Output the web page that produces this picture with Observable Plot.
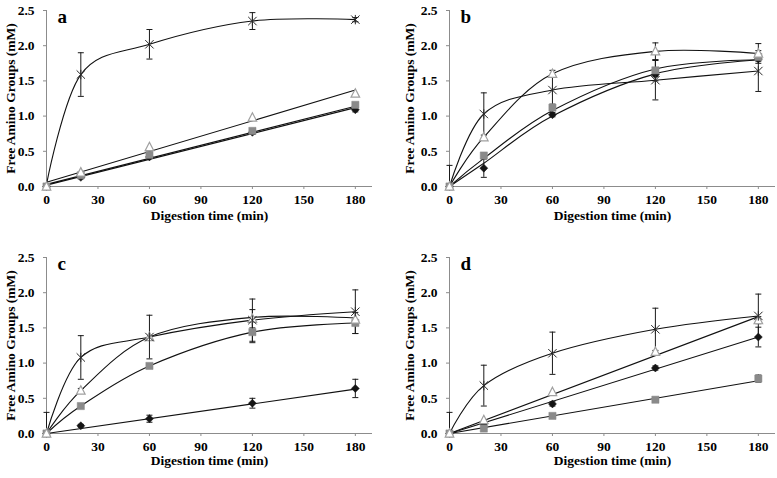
<!DOCTYPE html>
<html><head><meta charset="utf-8">
<script src="https://cdn.jsdelivr.net/npm/d3@7"></script>
<script src="https://cdn.jsdelivr.net/npm/@observablehq/plot@0.6"></script>
<style>
body{margin:0;background:#fff;}
#chart{position:relative;width:777px;height:478px;background:#fff;overflow:hidden;}
#chart svg{position:absolute;overflow:visible;}
</style></head><body><div id="chart"></div>
<script>
// ---------- data ----------
const times = [0, 20, 60, 120, 180];
const fitTimes = [0, 180];
const yTicks = [0, 0.5, 1, 1.5, 2, 2.5];
const xTicks = [0, 30, 60, 90, 120, 150, 180];
const panelLetters = ["a", "b", "c", "d"];
const yTitle = "Free Amino Groups (mM)";
const xTitle = "Digestion time (min)";

// panel a
const aDiamond = [0, 0.13, 0.42, 0.77, 1.09];
const aDiamondErr = [0, 0.02, 0.02, 0.03, 0.03];
const aDiamondFit = [0.02, 1.12];
const aSquare = [0, 0.16, 0.45, 0.79, 1.16];
const aSquareErr = [0, 0, 0, 0, 0];
const aSquareFit = [0.03, 1.14];
const aTriangle = [0, 0.20, 0.56, 0.98, 1.32];
const aTriangleErr = [0, 0, 0, 0, 0];
const aTriangleFit = [0.06, 1.37];
const aStar = [0.03, 1.59, 2.02, 2.35, 2.37];
const aStarErr = [0, 0.31, 0.21, 0.12, 0.03];

// panel b
const bDiamond = [0, 0.26, 1.02, 1.59, 1.81];
const bDiamondErr = [0, 0.13, 0.03, 0.03, 0.03];
const bDiamondFit = [0, 0.33, 1.00, 1.60, 1.80];
const bSquare = [0, 0.44, 1.12, 1.65, 1.84];
const bSquareErr = [0, 0, 0, 0.15, 0];
const bSquareFit = [0, 0.40, 1.08, 1.67, 1.80];
const bTriangle = [0, 0.70, 1.60, 1.92, 1.89];
const bTriangleErr = [0, 0, 0.05, 0.12, 0.14];
const bStar = [0, 1.03, 1.37, 1.51, 1.64];
const bStarErr = [0.3, 0.3, 0.2, 0.28, 0.29];

// panel c
const cDiamond = [0, 0.11, 0.21, 0.43, 0.64];
const cDiamondErr = [0, 0.02, 0.05, 0.07, 0.13];
const cDiamondFit = [0, 0.63];
const cSquare = [0, 0.39, 0.96, 1.44, 1.57];
const cSquareErr = [0, 0, 0, 0.15, 0.15];
const cTriangle = [0, 0.61, 1.37, 1.63, 1.62];
const cTriangleErr = [0, 0.03, 0, 0.13, 0];
const cTriangleFit = [0, 0.61, 1.37, 1.65, 1.64];
const cStar = [0, 1.08, 1.37, 1.61, 1.73];
const cStarErr = [0.3, 0.31, 0.31, 0.30, 0.31];

// panel d
const dDiamond = [0, 0.14, 0.42, 0.93, 1.37];
const dDiamondErr = [0, 0.02, 0.03, 0.03, 0.14];
const dDiamondFit = [0, 1.37];
const dSquare = [0, 0.07, 0.25, 0.48, 0.78];
const dSquareErr = [0, 0, 0, 0, 0.05];
const dSquareFit = [0, 0.75];
const dTriangle = [0, 0.19, 0.59, 1.16, 1.61];
const dTriangleErr = [0, 0, 0, 0, 0.05];
const dTriangleFit = [0, 1.66];
const dStar = [0, 0.68, 1.14, 1.48, 1.67];
const dStarErr = [0.3, 0.29, 0.30, 0.30, 0.31];

// ---------- symbols (Excel style) ----------
const starSym = {draw(c){const r=4.2;c.moveTo(-r,-r);c.lineTo(r,r);c.moveTo(-r,r);c.lineTo(r,-r);c.moveTo(0,-r-0.5);c.lineTo(0,r+0.5);}};
const diamondSym = {draw(c){const r=4;c.moveTo(0,-r);c.lineTo(r,0);c.lineTo(0,r);c.lineTo(-r,0);c.closePath();}};
const squareSym = {draw(c){const r=3.6;c.rect(-r,-r,2*r,2*r);}};
const triSym = {draw(c){c.moveTo(0,-4.8);c.lineTo(4.3,3.6);c.lineTo(-4.3,3.6);c.closePath();}};
const capSym = {draw(c){c.moveTo(-3,0);c.lineTo(3,0);}};

const styles = {
  diamond: {symbol: diamondSym, fill: "#141414", stroke: "#141414", strokeWidth: 0.5},
  square: {symbol: squareSym, fill: "#8a8a8a", stroke: "#8a8a8a", strokeWidth: 0.5},
  triangle: {symbol: triSym, fill: "#ffffff", stroke: "#a0a0a0", strokeWidth: 1.2},
  star: {symbol: starSym, fill: "none", stroke: "#2a2a2a", strokeWidth: 1}
};

function rows(vals, errs) { return times.map((t, i) => ({t, y: vals[i], e: errs[i]})); }
function fitRows(ts, vals) { return ts.map((t, i) => ({t, y: vals[i]})); }

const panels = [
  {letter: panelLetters[0], left: 0, top: 0, width: 388, ml: 46, mr: 16, titleDy: 29, series: [
    {k: "diamond", d: rows(aDiamond, aDiamondErr), fit: fitRows(fitTimes, aDiamondFit), curve: "linear"},
    {k: "square", d: rows(aSquare, aSquareErr), fit: fitRows(fitTimes, aSquareFit), curve: "linear"},
    {k: "triangle", d: rows(aTriangle, aTriangleErr), fit: fitRows(fitTimes, aTriangleFit), curve: "linear"},
    {k: "star", d: rows(aStar, aStarErr), fit: fitRows(times, aStar), curve: "cardinal"}]},
  {letter: panelLetters[1], left: 390, top: 0, width: 387, ml: 59, mr: 2, titleDy: 29, series: [
    {k: "diamond", d: rows(bDiamond, bDiamondErr), fit: fitRows(times, bDiamondFit), curve: "cardinal"},
    {k: "square", d: rows(bSquare, bSquareErr), fit: fitRows(times, bSquareFit), curve: "cardinal"},
    {k: "triangle", d: rows(bTriangle, bTriangleErr), fit: fitRows(times, bTriangle), curve: "cardinal"},
    {k: "star", d: rows(bStar, bStarErr), fit: fitRows(times, bStar), curve: "cardinal"}]},
  {letter: panelLetters[2], left: 0, top: 247, width: 388, ml: 46, mr: 16, titleDy: 27, series: [
    {k: "diamond", d: rows(cDiamond, cDiamondErr), fit: fitRows(fitTimes, cDiamondFit), curve: "linear"},
    {k: "square", d: rows(cSquare, cSquareErr), fit: fitRows(times, cSquare), curve: "cardinal"},
    {k: "triangle", d: rows(cTriangle, cTriangleErr), fit: fitRows(times, cTriangleFit), curve: "cardinal"},
    {k: "star", d: rows(cStar, cStarErr), fit: fitRows(times, cStar), curve: "cardinal"}]},
  {letter: panelLetters[3], left: 390, top: 247, width: 387, ml: 59, mr: 2, titleDy: 27, series: [
    {k: "diamond", d: rows(dDiamond, dDiamondErr), fit: fitRows(fitTimes, dDiamondFit), curve: "linear"},
    {k: "square", d: rows(dSquare, dSquareErr), fit: fitRows(fitTimes, dSquareFit), curve: "linear"},
    {k: "triangle", d: rows(dTriangle, dTriangleErr), fit: fitRows(fitTimes, dTriangleFit), curve: "linear"},
    {k: "star", d: rows(dStar, dStarErr), fit: fitRows(times, dStar), curve: "cardinal"}]}
];

const axisGray = "#8c8c8c";
const chart = document.getElementById("chart");

for (const p of panels) {
  const marks = [
    Plot.ruleY([0], {stroke: axisGray}),
    Plot.ruleX([0], {stroke: axisGray}),
    Plot.axisY(yTicks, {tickSize: 3, tickPadding: 9, tickFormat: d3.format(".1f"), stroke: axisGray, fill: "#000", label: null}),
    Plot.axisX(xTicks, {tickSize: 3, tickPadding: 5, stroke: axisGray, fill: "#000", label: null}),
    Plot.text([yTitle], {text: d => d, frameAnchor: "left", rotate: -90, dx: -(p.ml - (p.left ? 19 : 10)), textAnchor: "middle", lineAnchor: "middle", fill: "#000"}),
    Plot.text([xTitle], {text: d => d, frameAnchor: "bottom", dy: p.titleDy, textAnchor: "middle", lineAnchor: "middle", fill: "#000"}),
    Plot.text([p.letter], {text: d => d, frameAnchor: "top-left", dx: 11, dy: -1, textAnchor: "start", lineAnchor: "top", fontSize: 19, fill: "#000"})
  ];
  // fitted / smoothed lines
  for (const s of p.series) {
    marks.push(Plot.line(s.fit, {x: "t", y: "y", curve: s.curve, stroke: "#111", strokeWidth: 1.1}));
  }
  // error bars
  for (const s of p.series) {
    const eb = s.d.filter(d => d.e > 0);
    marks.push(Plot.ruleX(eb, {x: "t", y1: d => Math.max(0, d.y - d.e), y2: d => d.y + d.e, stroke: "#1a1a1a", strokeWidth: 1}));
    const caps = [];
    for (const d of eb) {
      caps.push({t: d.t, v: d.y + d.e});
      if (d.y - d.e > 0) caps.push({t: d.t, v: d.y - d.e});
    }
    marks.push(Plot.dot(caps, {x: "t", y: "v", symbol: capSym, stroke: "#1a1a1a", strokeWidth: 1}));
  }
  // markers
  for (const s of p.series) {
    const pts = s.k === "star" ? s.d.filter(d => d.t > 0) : s.d;
    marks.push(Plot.dot(pts, {x: "t", y: "y", ...styles[s.k]}));
  }
  const svg = Plot.plot({
    width: p.width, height: 231,
    marginLeft: p.ml, marginRight: p.mr, marginTop: 10, marginBottom: 45,
    x: {domain: [0, 190], axis: null},
    y: {domain: [0, 2.5], axis: null},
    style: {fontFamily: "'Liberation Serif', 'Times New Roman', serif", fontSize: "13.5px", fontWeight: "bold", background: "transparent", color: "#000", overflow: "visible"},
    marks
  });
  svg.style.left = p.left + "px";
  svg.style.top = p.top + "px";
  chart.appendChild(svg);
}
</script>
</body></html>
